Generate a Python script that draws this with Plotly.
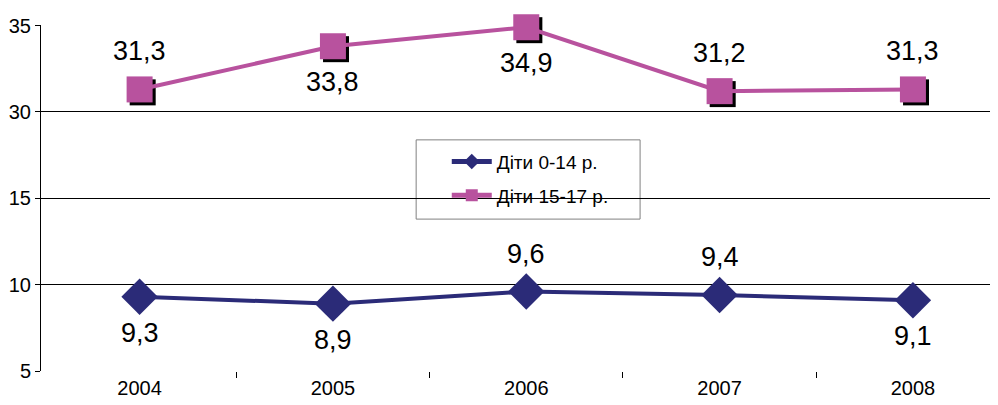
import plotly.graph_objects as go

years = ["2004", "2005", "2006", "2007", "2008"]
kids_0_14 = [9.3, 8.9, 9.6, 9.4, 9.1]
kids_15_17 = [31.3, 33.8, 34.9, 31.2, 31.3]
pos_0_14 = ["below", "below", "above", "above", "below"]
pos_15_17 = ["above", "below", "below", "above", "above"]
tick_values = [5, 10, 15, 30, 35]

# broken axis: values >= 30 shifted down by 10 so 15 and 30 sit one step apart
def to_axis(v):
    return v if v <= 15 else v - 10

xs = list(range(len(years)))
navy = "#2B2B78"
pink = "#B8529E"
FONT = "Liberation Sans, Arial"

fig = go.Figure()
# shadow for square markers
fig.add_trace(go.Scatter(
    x=[x + 0.016 for x in xs], y=[to_axis(v) - 0.17 for v in kids_15_17],
    mode="markers", marker=dict(symbol="square", size=26, color="black"),
    showlegend=False, hoverinfo="skip", cliponaxis=False))
fig.add_trace(go.Scatter(
    x=xs, y=[to_axis(v) for v in kids_0_14], mode="lines+markers",
    name="Діти 0-14 р.", legendgroup="a", line=dict(color=navy, width=4),
    marker=dict(symbol="diamond", size=28, color=navy), cliponaxis=False))
fig.add_trace(go.Scatter(
    x=xs, y=[to_axis(v) for v in kids_15_17], mode="lines+markers",
    name="Діти 15-17 р.", legendgroup="b", line=dict(color=pink, width=4),
    marker=dict(symbol="square", size=26, color=pink), cliponaxis=False))

for series, poss in ((kids_0_14, pos_0_14), (kids_15_17, pos_15_17)):
    for x, v, p in zip(xs, series, poss):
        fig.add_annotation(x=x, y=to_axis(v), text=f"{v:.1f}".replace(".", ","),
                           showarrow=False, yshift=38 if p == "above" else -36,
                           font=dict(size=27, color="black", family=FONT))

# legend frame
fig.add_shape(type="rect", xref="paper", yref="paper",
              x0=0.392, x1=0.626, y0=0.439, y1=0.668,
              line=dict(color="#808080", width=1), fillcolor="white", layer="below")

fig.update_layout(
    width=990, height=397,
    margin=dict(l=33, r=0, t=17, b=34),
    paper_bgcolor="white", plot_bgcolor="white",
    font=dict(family=FONT, color="black", size=19),
    showlegend=True,
    legend=dict(x=0.424, y=0.66, xanchor="left", yanchor="top",
                borderwidth=0, bgcolor="rgba(0,0,0,0)",
                font=dict(size=19), itemwidth=40, itemsizing="constant",
                traceorder="grouped", tracegroupgap=6),
    xaxis=dict(
        range=[-0.51, 4.44], tickmode="array", tickvals=xs, ticktext=years,
        showgrid=False, zeroline=False, showline=False, ticks="",
        ticklabelstandoff=3,
        tickfont=dict(size=20, family=FONT, color="black"), automargin=False),
    yaxis=dict(
        range=[5, 25.03], tickmode="array",
        tickvals=[to_axis(t) for t in tick_values],
        ticktext=[str(t) for t in tick_values], showgrid=True, gridcolor="black",
        gridwidth=1, showline=True, linecolor="black", linewidth=1,
        ticks="outside", ticklen=5, tickcolor="black", zeroline=False,
        tickfont=dict(size=20, family=FONT, color="black"), automargin=False),
)
fig.update_xaxes(minor=dict(tickvals=[x + 0.5 for x in xs[:-1]],
                            ticks="outside", ticklen=6, tickcolor="black",
                            showgrid=False))

fig.write_html("out.html")
